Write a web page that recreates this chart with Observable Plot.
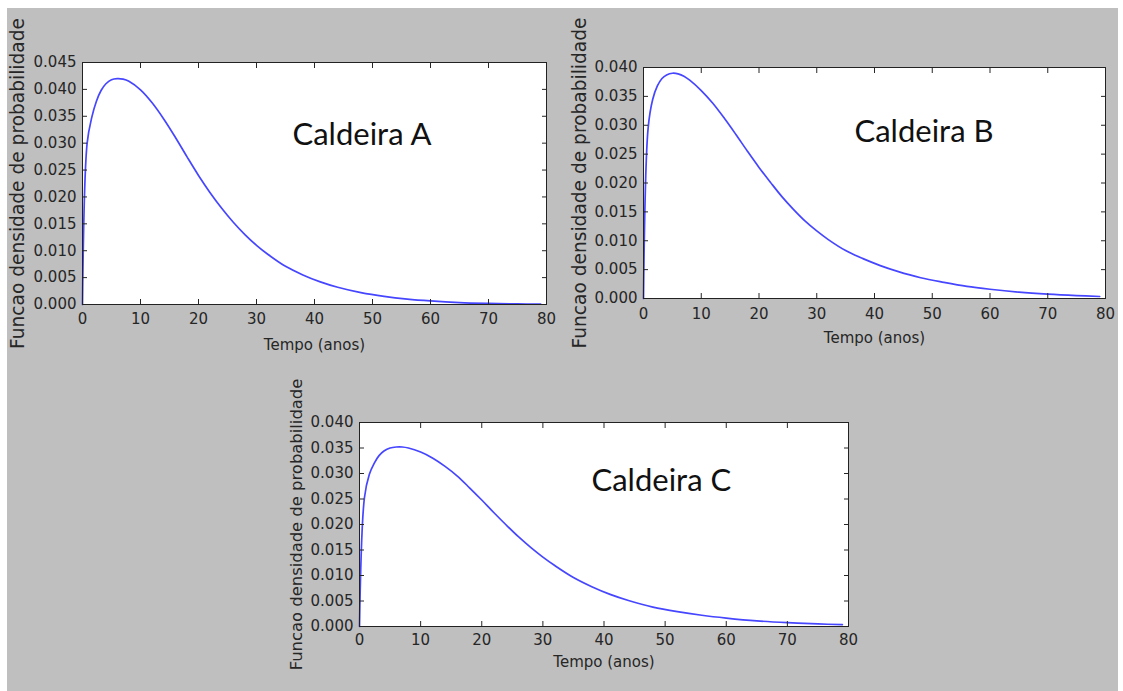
<!DOCTYPE html>
<html>
<head>
<meta charset="utf-8">
<script src="https://cdn.jsdelivr.net/npm/d3@7"></script>
<script src="https://cdn.jsdelivr.net/npm/@observablehq/plot@0.6"></script>
<style>
  html, body { margin: 0; padding: 0; background: #ffffff; }
  #page { position: relative; width: 1123px; height: 691px; overflow: hidden; }
  #fundo { position: absolute; left: 7px; top: 8px; width: 1111px; height: 683px; background: #bfbfbf; }
</style>
</head>
<body>
<div id="page"><div id="fundo"></div></div>
<script>
// Tempo (anos) em que cada densidade foi lida
const tempo = [0, 0.8, 1.6, 2.4, 3.2, 4, 5, 6, 7, 8, 10, 12, 14, 16, 18, 20, 22, 24, 26, 28,
  30, 32, 35, 38, 41, 44, 48, 52, 56, 60, 65, 70, 75, 79];

// Função densidade de probabilidade de cada caldeira
const densidadeA = [0, 0.0300, 0.0348, 0.0378, 0.0398, 0.0410, 0.0418, 0.0420, 0.0419, 0.0415,
  0.0399, 0.0375, 0.0345, 0.0311, 0.0275, 0.0240, 0.0208, 0.0179, 0.0153, 0.0130,
  0.0110, 0.0093, 0.0071, 0.0055, 0.0042, 0.0032, 0.0022, 0.0015, 0.0010, 0.00066,
  0.00036, 0.0002, 0.0001, 0.00006];
const densidadeB = [0, 0.0295, 0.0345, 0.0368, 0.0381, 0.0387, 0.0390, 0.0389, 0.0385, 0.0378,
  0.0360, 0.0338, 0.0312, 0.0284, 0.0255, 0.0227, 0.0201, 0.0176, 0.0154, 0.0134,
  0.0117, 0.0102, 0.0083, 0.0069, 0.0057, 0.0047, 0.0036, 0.0028, 0.0021, 0.0016,
  0.0011, 0.00075, 0.0005, 0.00035];
const densidadeC = [0, 0.0252, 0.0298, 0.0320, 0.0335, 0.0344, 0.0350, 0.0352, 0.0352, 0.0350,
  0.0342, 0.0330, 0.0314, 0.0295, 0.0272, 0.0248, 0.0223, 0.0199, 0.0176, 0.0155,
  0.0136, 0.0119, 0.0096, 0.0078, 0.0063, 0.0051, 0.0038, 0.0029, 0.0022, 0.00165,
  0.0011, 0.00075, 0.0005, 0.00035];

// Marcas dos eixos
const ticksTempo = [0, 10, 20, 30, 40, 50, 60, 70, 80];
const ticksA = [0, 0.005, 0.010, 0.015, 0.020, 0.025, 0.030, 0.035, 0.040, 0.045];
const ticksBC = [0, 0.005, 0.010, 0.015, 0.020, 0.025, 0.030, 0.035, 0.040];

const rotuloX = "Tempo (anos)";
const rotuloY = "Funcao densidade de probabilidade";

const page = document.getElementById("page");

function painel({nome, densidade, yTicks, left, top, width, height,
                 yLabelSize, yLabelOffset, xTickPad, xLabelOffset, nomeDx, nomeDy}) {
  const mL = 80, mT = 58, mR = 22, mB = 56;
  const linhas = tempo.map((t, i) => ({t, d: densidade[i]}));
  const semTexto = () => "";
  const chart = Plot.plot({
    width: mL + width + mR,
    height: mT + height + mB,
    marginLeft: mL, marginTop: mT, marginRight: mR, marginBottom: mB,
    style: {background: "transparent", fontFamily: "DejaVu Sans", fontSize: "15px", color: "#262626", overflow: "visible"},
    x: {domain: [0, 80]},
    y: {domain: [0, yTicks[yTicks.length - 1]]},
    marks: [
      Plot.frame({fill: "white"}),
      Plot.line(linhas, {x: "t", y: "d", stroke: "#4646ff", strokeWidth: 1.7, curve: "catmull-rom"}),
      Plot.axisX(ticksTempo, {anchor: "bottom", tickSize: 0, tickPadding: xTickPad, label: null}),
      Plot.axisX(ticksTempo, {anchor: "bottom", tickSize: -5, tickFormat: semTexto, label: null}),
      Plot.axisX(ticksTempo, {anchor: "top", tickSize: -5, tickFormat: semTexto, label: null}),
      Plot.axisY(yTicks, {anchor: "left", tickSize: 0, tickPadding: 6, tickFormat: d3.format(".3f"), label: null}),
      Plot.axisY(yTicks, {anchor: "left", tickSize: -5, tickFormat: semTexto, label: null}),
      Plot.axisY(yTicks, {anchor: "right", tickSize: -5, tickFormat: semTexto, label: null}),
      Plot.frame({stroke: "#222222"}),
      Plot.text([rotuloY], {frameAnchor: "left", rotate: -90, dx: -yLabelOffset,
        textAnchor: "middle", lineAnchor: "bottom", fontSize: yLabelSize}),
      Plot.text([rotuloX], {frameAnchor: "bottom", dy: xLabelOffset,
        textAnchor: "middle", lineAnchor: "bottom"}),
      Plot.text([nome], {frameAnchor: "top-left", dx: nomeDx, dy: nomeDy,
        textAnchor: "start", lineAnchor: "bottom", fontFamily: "Lato", fontSize: 31, fill: "#111111"})
    ]
  });
  chart.style.position = "absolute";
  chart.style.left = (left - mL) + "px";
  chart.style.top = (top - mT) + "px";
  chart.style.maxWidth = "none";
  page.appendChild(chart);
}

painel({nome: "Caldeira A", densidade: densidadeA, yTicks: ticksA,
  left: 82, top: 62, width: 464, height: 242,
  yLabelSize: 18.6, yLabelOffset: 58.5, xTickPad: 9, xLabelOffset: 45, nomeDx: 210, nomeDy: 82});
painel({nome: "Caldeira B", densidade: densidadeB, yTicks: ticksBC,
  left: 643, top: 67, width: 462, height: 231,
  yLabelSize: 18.6, yLabelOffset: 58, xTickPad: 10, xLabelOffset: 44, nomeDx: 211, nomeDy: 74});
painel({nome: "Caldeira C", densidade: densidadeC, yTicks: ticksBC,
  left: 359, top: 422, width: 489, height: 204,
  yLabelSize: 16.4, yLabelOffset: 57.5, xTickPad: 7.5, xLabelOffset: 40, nomeDx: 232, nomeDy: 68});
</script>
</body>
</html>
